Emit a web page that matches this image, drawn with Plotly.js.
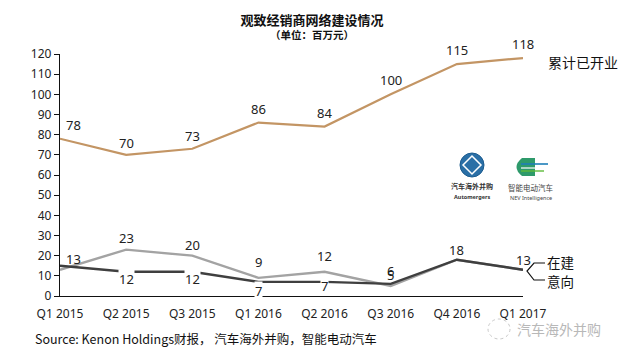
<!DOCTYPE html>
<html>
<head>
<meta charset="utf-8">
<script src="https://cdn.plot.ly/plotly-3.0.1.min.js"></script>
<style>html,body{margin:0;padding:0;background:#fff;}#chart{width:625px;height:353px;}</style>
</head>
<body>
<div id="chart"></div>
<script>
// ---- data ----
const categories = ["Q1 2015","Q2 2015","Q3 2015","Q1 2016","Q2 2016","Q3 2016","Q4 2016","Q1 2017"];
const opened   = [78, 70, 73, 86, 84, 100, 115, 118];   // 累计已开业
const intent   = [13, 23, 20, 9, 12, 5, 18, 13];        // 意向 (light grey)
const building = [15, 12, 12, 7, 7, 6, 18, 13];         // 在建 (dark grey)
const yTicks   = [0,10,20,30,40,50,60,70,80,90,100,110,120];

// ---- label placement (pixel offsets, not data) ----
const openedDy   = [14, 12, 13, 14, 14, 14, 14, 14];
const openedDx   = [13, 0, 0, 0, 0, 0, 0, 0];
const intentDy   = [11, 12, 11, 16, 16, 11, 10, 10];
const intentDx   = [13, 0, 0, 0, 0, 0, 0, 0];
const buildingDy = [null, -7, -7, -9, -4, 13, null, null];
const buildingBg = [false, true, true, true, true, false, false, false];

// plot area in pixels
const L = 60, R = 523, T = 54, B = 296;
const px = x => (x - L) / (R - L);
const py = y => (B - y) / (B - T);

const font = "Noto Sans, Noto Sans CJK SC, sans-serif";
const cjk = "Noto Sans CJK SC, sans-serif";

const traces = [
  {x: categories, y: opened, type: "scatter", mode: "lines",
   line: {color: "#C39564", width: 2.2}, hoverinfo: "skip", showlegend: false},
  {x: categories, y: intent, type: "scatter", mode: "lines",
   line: {color: "#A3A3A3", width: 2.4}, hoverinfo: "skip", showlegend: false},
  {x: categories, y: building, type: "scatter", mode: "lines",
   line: {color: "#3F3F3F", width: 2.4}, hoverinfo: "skip", showlegend: false}
];

const annotations = [];
function addLabels(vals, dy, dx, bg) {
  vals.forEach((v, i) => {
    if (dy[i] === null) return;
    annotations.push({x: categories[i], y: v, xref: "x", yref: "y", text: String(v),
      showarrow: false, yshift: dy[i], xshift: dx ? dx[i] : 0, yanchor: "middle",
      font: {family: font, size: 13, color: "#222"},
      bgcolor: (bg && bg[i]) ? "#ffffff" : "rgba(0,0,0,0)", borderpad: 0});
  });
}
addLabels(opened, openedDy, openedDx, null);
addLabels(intent, intentDy, intentDx, null);
addLabels(building, buildingDy, null, buildingBg);

function pTxt(x, y, text, size, color, fam, anchor) {
  annotations.push({xref: "paper", yref: "paper", x: px(x), y: py(y), text: text,
    xanchor: anchor || "center", yanchor: "middle", showarrow: false, borderpad: 0,
    font: {family: fam || cjk, size: size, color: color}});
}
// subtitle
pTxt(312, 35, "<b>（单位：百万元）</b>", 10.5, "#111");
// series names
pTxt(547, 62, "累计已开业", 14, "#111", cjk, "left");
pTxt(546, 262, "在建", 13.5, "#111", cjk, "left");
pTxt(546, 281, "意向", 13.5, "#111", cjk, "left");
// source
pTxt(34, 338, "Source: Kenon Holdings财报， 汽车海外并购，智能电动汽车", 12.5, "#111", cjk, "left");
// watermark
pTxt(516, 329, "汽车海外并购", 14, "#b8b8b8", cjk, "left");
// logo texts
pTxt(472, 186, "<b>汽车海外并购</b>", 7, "#333");
pTxt(472, 197, "<b>Automergers</b>", 5.5, "#333", font);
pTxt(531, 187, "智能电动汽车", 7.5, "#444");
pTxt(531, 198, "NEV Intelligence", 5.5, "#444", font);

const shapes = [
  // bracket for 在建 / 意向
  {type: "path", xref: "paper", yref: "paper",
   path: `M ${px(545)} ${py(263)} L ${px(534)} ${py(263)} L ${px(527)} ${py(271)} L ${px(534)} ${py(280)} L ${px(545)} ${py(280)}`,
   line: {color: "#111", width: 1.2}},
  // blue logo
  {type: "circle", xref: "paper", yref: "paper", x0: px(460), x1: px(484), y0: py(177), y1: py(153),
   fillcolor: "#2A6FA6", line: {color: "#1C5C8F", width: 1}},
  {type: "path", xref: "paper", yref: "paper",
   path: `M ${px(472)} ${py(156)} L ${px(481)} ${py(165)} L ${px(472)} ${py(174)} L ${px(463)} ${py(165)} Z`,
   fillcolor: "rgba(0,0,0,0)", line: {color: "#ffffff", width: 1.5}},
  // green logo
  {type: "path", xref: "paper", yref: "paper",
   path: `M ${px(535)} ${py(158)} L ${px(522)} ${py(158)} Q ${px(511)} ${py(167)} ${px(522)} ${py(176)} L ${px(535)} ${py(176)} Z`,
   fillcolor: "#2E9A6B", line: {width: 0}},
  {type: "line", xref: "paper", yref: "paper", x0: px(521), x1: px(548), y0: py(164), y1: py(164),
   line: {color: "#1F7FB8", width: 1.6}},
  {type: "line", xref: "paper", yref: "paper", x0: px(521), x1: px(546), y0: py(168), y1: py(168),
   line: {color: "#ffffff", width: 1.2}},
  {type: "line", xref: "paper", yref: "paper", x0: px(521), x1: px(544), y0: py(171), y1: py(171),
   line: {color: "#5DBB3A", width: 1.4}},
  // watermark icon
  {type: "circle", xref: "paper", yref: "paper", x0: px(488), x1: px(510), y0: py(339), y1: py(319),
   fillcolor: "rgba(0,0,0,0)", line: {color: "#c8c8c8", width: 1, dash: "dot"}}
];

const layout = {
  width: 625, height: 353,
  margin: {l: L, r: 625 - R, t: T, b: 353 - B, pad: 0},
  paper_bgcolor: "#ffffff", plot_bgcolor: "#ffffff",
  title: {text: "<b>观致经销商网络建设情况</b>", x: px(312), xref: "paper", y: 1 - 20 / 353, yanchor: "middle",
          font: {family: cjk, size: 13, color: "#111"}},
  xaxis: {type: "category", range: [0, categories.length - 1], showgrid: false, zeroline: false,
          showline: true, linecolor: "#111", linewidth: 1.2, ticks: "", ticklabelstandoff: 6,
          tickfont: {family: font, size: 12, color: "#222"}, fixedrange: true},
  yaxis: {range: [0, 120], tickvals: yTicks, showgrid: false, zeroline: false,
          showline: true, linecolor: "#111", linewidth: 1.2, ticks: "outside", ticklen: 5,
          tickcolor: "#111", tickfont: {family: font, size: 12, color: "#222"}, fixedrange: true},
  annotations: annotations,
  shapes: shapes,
  showlegend: false
};

Plotly.newPlot("chart", traces, layout, {displayModeBar: false, staticPlot: true});
</script>
</body>
</html>
